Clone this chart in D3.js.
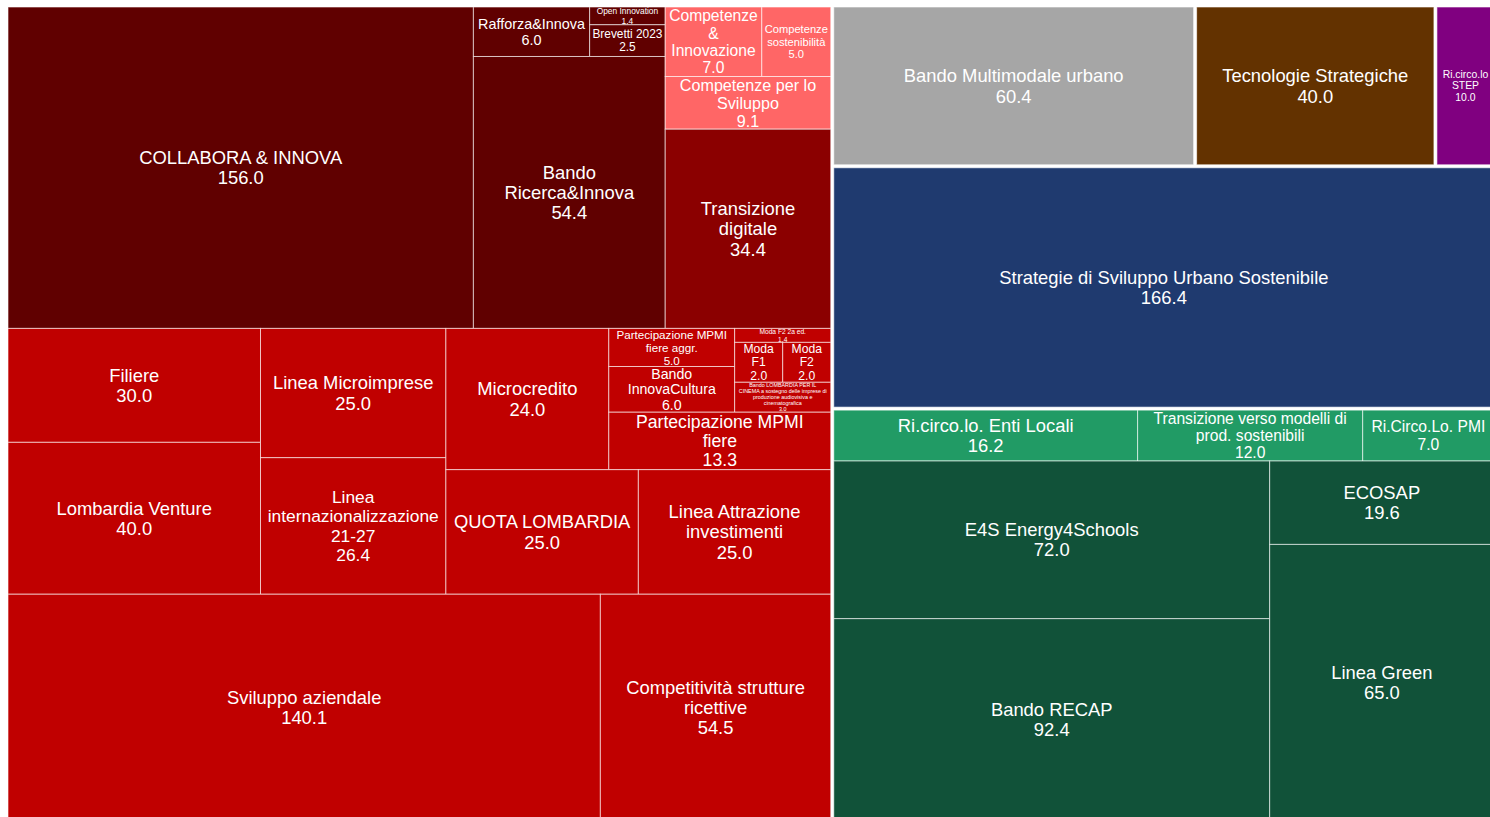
<!DOCTYPE html>
<html>
<head>
<meta charset="utf-8">
<script src="https://cdn.jsdelivr.net/npm/d3@7"></script>
<style>
  html, body { margin: 0; padding: 0; background: #ffffff; overflow: hidden; }
  svg { display: block; overflow: hidden; }
</style>
</head>
<body>
<svg id="chart" width="1490" height="817"></svg>
<script>
// Funded measures (M€) and their thematic family
const names = [
  "COLLABORA & INNOVA", "Rafforza&Innova", "Open Innovation", "Brevetti 2023", "Bando Ricerca&Innova",
  "Competenze & Innovazione", "Competenze sostenibilità", "Competenze per lo Sviluppo",
  "Transizione digitale",
  "Filiere", "Lombardia Venture", "Linea Microimprese", "Linea internazionalizzazione 21-27",
  "Microcredito", "Partecipazione MPMI fiere aggr.", "Bando InnovaCultura", "Moda F2 2a ed.",
  "Moda F1", "Moda F2",
  "Bando LOMBARDIA PER IL CINEMA a sostegno delle imprese di produzione audiovisiva e cinematografica",
  "Partecipazione MPMI fiere", "QUOTA LOMBARDIA", "Linea Attrazione investimenti",
  "Sviluppo aziendale", "Competitività strutture ricettive",
  "Bando Multimodale urbano", "Tecnologie Strategiche", "Ri.circo.lo STEP",
  "Strategie di Sviluppo Urbano Sostenibile",
  "Ri.circo.lo. Enti Locali", "Transizione verso modelli di prod. sostenibili", "Ri.Circo.Lo. PMI",
  "E4S Energy4Schools", "Bando RECAP", "ECOSAP", "Linea Green"
];
const values = [
  156.0, 6.0, 1.4, 2.5, 54.4,
  7.0, 5.0, 9.1,
  34.4,
  30.0, 40.0, 25.0, 26.4,
  24.0, 5.0, 6.0, 1.4,
  2.0, 2.0,
  3.0,
  13.3, 25.0, 25.0,
  140.1, 54.5,
  60.4, 40.0, 10.0,
  166.4,
  16.2, 12.0, 7.0,
  72.0, 92.4, 19.6, 65.0
];
const families = [
  "Ricerca", "Ricerca", "Ricerca", "Ricerca", "Ricerca",
  "Competenze", "Competenze", "Competenze",
  "Digitale",
  "Competitività", "Competitività", "Competitività", "Competitività",
  "Competitività", "Competitività", "Competitività", "Competitività",
  "Competitività", "Competitività",
  "Competitività",
  "Competitività", "Competitività", "Competitività",
  "Competitività", "Competitività",
  "Mobilità", "STEP", "Circolarità STEP",
  "Urbano",
  "Economia circolare", "Economia circolare", "Economia circolare",
  "Energia", "Energia", "Energia", "Energia"
];
// Family → colour and programme priority
const familyNames  = ["Ricerca", "Competenze", "Digitale", "Competitività", "Mobilità", "STEP",
                      "Circolarità STEP", "Urbano", "Economia circolare", "Energia"];
const familyColors = ["#600000", "#ff6666", "#8b0000", "#c00000", "#a6a6a6", "#633200",
                      "#800080", "#1f3a6f", "#219b65", "#115239"];
const familyPriority = ["P1", "P1", "P1", "P1", "P3", "P6", "P6b", "P5", "P2", "P2"];

// Nesting of the measures: "h" = side by side, "v" = stacked
const nesting = ["h",
  ["v",
    ["h", "COLLABORA & INNOVA",
      ["v", ["h", "Rafforza&Innova", ["v", "Open Innovation", "Brevetti 2023"]], "Bando Ricerca&Innova"],
      ["v", ["h", "Competenze & Innovazione", "Competenze sostenibilità"],
            "Competenze per lo Sviluppo", "Transizione digitale"]],
    ["h",
      ["v", "Filiere", "Lombardia Venture"],
      ["v", "Linea Microimprese", "Linea internazionalizzazione 21-27"],
      ["v",
        ["h", "Microcredito",
          ["v",
            ["h",
              ["v", "Partecipazione MPMI fiere aggr.", "Bando InnovaCultura"],
              ["v", "Moda F2 2a ed.", ["h", "Moda F1", "Moda F2"], names[19]]],
            "Partecipazione MPMI fiere"]],
        ["h", "QUOTA LOMBARDIA", "Linea Attrazione investimenti"]]],
    ["h", "Sviluppo aziendale", "Competitività strutture ricettive"]],
  ["v",
    ["h", "Bando Multimodale urbano", "Tecnologie Strategiche", "Ri.circo.lo STEP"],
    "Strategie di Sviluppo Urbano Sostenibile",
    ["v",
      ["h", "Ri.circo.lo. Enti Locali", "Transizione verso modelli di prod. sostenibili", "Ri.Circo.Lo. PMI"],
      ["h", ["v", "E4S Energy4Schools", "Bando RECAP"], ["v", "ECOSAP", "Linea Green"]]]]
];

const margin = {top: 7, left: 8};
const width = 1490, height = 817;
const areaW = 1486, areaH = 814;   // plotting area runs slightly past the frame
const visRight = width - margin.left, visBottom = height - margin.top;

const color = d3.scaleOrdinal().domain(familyNames).range(familyColors);
const priority = d3.scaleOrdinal().domain(familyNames).range(familyPriority);
const fmt = d3.format(".1f");

function build(node) {
  if (typeof node === "string") {
    const i = names.indexOf(node);
    return {name: names[i], value: values[i], family: families[i]};
  }
  return {split: node[0], children: node.slice(1).map(build)};
}

const root = d3.hierarchy(build(nesting))
  .sum(d => d.value || 0);

// white gutters only where neighbouring blocks belong to different priorities
const mixed = node => new Set(node.leaves().map(l => priority(l.data.family))).size > 1;

d3.treemap()
  .size([areaW, areaH])
  .paddingInner(node => mixed(node) ? 3 : 0)
  .round(false)
  .tile((node, x0, y0, x1, y1) =>
    (node.data.split === "h" ? d3.treemapDice : d3.treemapSlice)(node, x0, y0, x1, y1))
  (root);

const svg = d3.select("#chart");
const g = svg.append("g").attr("transform", `translate(${margin.left},${margin.top})`);

const leaves = root.leaves();

g.selectAll("rect.cell")
  .data(leaves)
  .join("rect")
  .attr("class", "cell")
  .attr("x", d => d.x0)
  .attr("y", d => d.y0)
  .attr("width", d => Math.max(0, d.x1 - d.x0))
  .attr("height", d => Math.max(0, d.y1 - d.y0))
  .attr("fill", d => color(d.data.family))
  .attr("stroke", "rgba(255,255,255,0.6)")
  .attr("stroke-width", 1);

// Label fitting: wrap words greedily, shrink the font until the block fits
const FONT = '"Liberation Sans", Arial, sans-serif';
const MAX_FS = 18.4, LINE = 1.1;
const ctx = document.createElement("canvas").getContext("2d");
function measure(text, fs) {
  ctx.font = `${fs}px ${FONT}`;
  return ctx.measureText(text).width;
}
function wrap(words, fs, maxW) {
  const lines = [];
  let cur = "";
  for (const w of words) {
    const test = cur ? cur + " " + w : w;
    if (!cur || measure(test, fs) <= maxW) cur = test;
    else { lines.push(cur); cur = w; }
  }
  if (cur) lines.push(cur);
  return lines;
}
function fitLabel(name, valueText, w, h) {
  const pad = Math.max(1, w * 0.035);
  const maxW = w - 2 * pad;
  const maxH = h + 1;
  const words = name.split(/\s+/);
  for (let fs = MAX_FS; fs >= 3; fs -= 0.25) {
    const lines = wrap(words, fs, maxW).concat([valueText]);
    const widest = d3.max(lines, l => measure(l, fs));
    if (widest <= maxW && lines.length * fs * LINE <= maxH) return {fs, lines};
  }
  const fs = 3;
  return {fs, lines: wrap(words, fs, maxW).concat([valueText])};
}

g.selectAll("text.label")
  .data(leaves)
  .join("text")
  .attr("class", "label")
  .attr("text-anchor", "middle")
  .attr("fill", "#ffffff")
  .style("font-family", FONT)
  .each(function(d) {
    const cx = (d.x0 + d.x1) / 2, cy = (d.y0 + d.y1) / 2;
    // keep the text inside the visible part of cells cut by the frame
    const w = 2 * Math.min(cx - d.x0, visRight - cx);
    const h = 2 * Math.min(cy - d.y0, visBottom - cy);
    const {fs, lines} = fitLabel(d.data.name, fmt(d.data.value), w, h);
    const lh = fs * LINE;
    const t = d3.select(this).style("font-size", fs + "px");
    lines.forEach((line, i) => {
      t.append("tspan")
        .attr("x", cx)
        .attr("y", cy + (i - (lines.length - 1) / 2) * lh)
        .attr("dominant-baseline", "central")
        .text(line);
    });
  });
</script>
</body>
</html>
